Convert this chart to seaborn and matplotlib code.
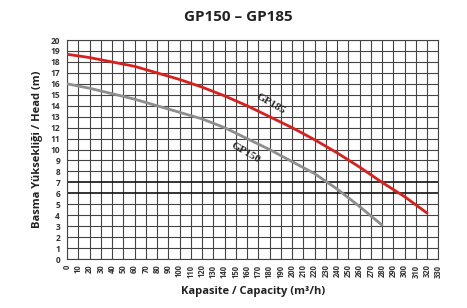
import matplotlib
matplotlib.use("Agg")
import matplotlib.pyplot as plt
import seaborn as sns
import pandas as pd

# Pump curves (capacity m3/h -> head m)
gp185_q = [0, 20, 40, 60, 80, 100, 120, 140, 160, 180, 200, 220, 240, 260, 280, 300, 320]
gp185_h = [18.7, 18.4, 18.0, 17.6, 17.0, 16.4, 15.7, 14.9, 14.0, 13.0, 12.0, 10.9, 9.7, 8.4, 7.0, 5.7, 4.2]
gp150_q = [0, 20, 40, 60, 80, 100, 120, 140, 160, 180, 200, 220, 240, 260, 280]
gp150_h = [16.0, 15.6, 15.1, 14.6, 14.0, 13.4, 12.8, 12.0, 11.0, 10.0, 8.9, 7.8, 6.4, 4.8, 3.1]

x_ticks = list(range(0, 340, 10))
y_ticks = list(range(0, 21))

df = pd.concat([
    pd.DataFrame({"Q": gp185_q, "H": gp185_h, "pump": "GP185"}),
    pd.DataFrame({"Q": gp150_q, "H": gp150_h, "pump": "GP150"}),
])

sns.set_style("white")
plt.rcParams["font.family"] = ["Open Sans", "DejaVu Sans"]

fig = plt.figure(figsize=(4.67, 3.08), dpi=100)
ax = fig.add_axes([0.1435, 0.159, 0.795, 0.711])

sns.lineplot(data=df, x="Q", y="H", hue="pump", palette={"GP185": "#d8201e", "GP150": "#8e8e8e"},
             linewidth=2, legend=False, ax=ax, zorder=3)

ax.set_xlim(0, 330)
ax.set_ylim(0, 20)
ax.set_xticks(x_ticks)
ax.set_yticks(y_ticks)
ax.set_xticklabels([str(v) for v in x_ticks], rotation=90, fontsize=5.5, fontweight="bold", color="#333333")
ax.set_yticklabels([str(v) for v in y_ticks], fontsize=6, fontweight="bold", color="#333333")
ax.tick_params(axis="x", length=0, pad=4)
ax.tick_params(axis="y", length=0, pad=5)

# grid
for v in x_ticks:
    ax.axvline(v, color="#444444", lw=0.8, zorder=1)
for v in y_ticks:
    if v in (6, 7):
        ax.axhline(v, color="#111111", lw=1.2, zorder=1)
    else:
        ax.axhline(v, color="#444444", lw=0.8, zorder=1)
for s in ax.spines.values():
    s.set_color("#444444")
    s.set_linewidth(0.8)

# curve labels
ax.text(181, 14.2, "GP185", rotation=-30, fontsize=8, fontweight="bold", family="Liberation Serif",
        ha="center", va="center", zorder=4)
ax.text(159, 9.7, "GP150", rotation=-30, fontsize=8, fontweight="bold", family="Liberation Serif",
        ha="center", va="center", zorder=4)

ax.set_xlabel("Kapasite / Capacity (m³/h)", fontsize=8, fontweight="bold", color="#222222", labelpad=6)
ax.set_ylabel("Basma Yüksekliği / Head (m)", fontsize=8, fontweight="bold", color="#222222", labelpad=5)
fig.text(0.51, 0.945, "GP150 – GP185", ha="center", va="center", fontsize=11, fontweight="bold", color="#222222")

fig.savefig("out.png", dpi=100)
